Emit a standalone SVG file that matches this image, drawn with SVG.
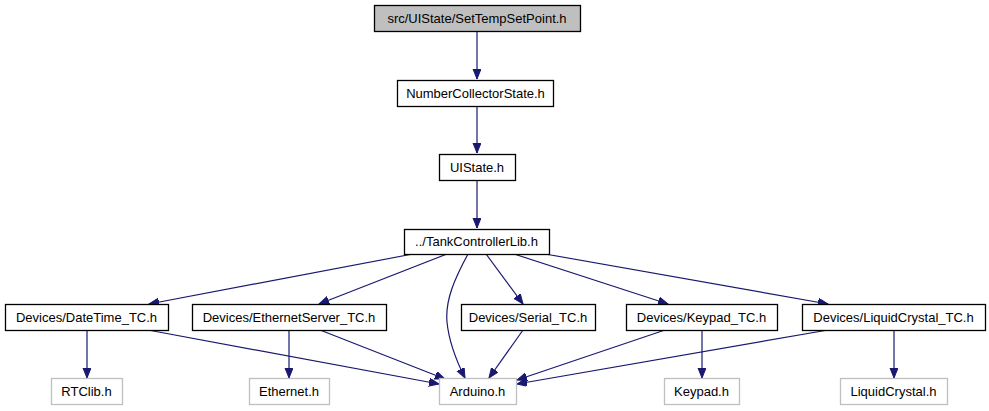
<svg xmlns="http://www.w3.org/2000/svg" width="989" height="411" viewBox="0 0 989 411">
<style>
.n rect{fill:#fff;stroke:#000;stroke-width:1.3}
.g rect{fill:#fff;stroke:#bfbfbf;stroke-width:1.3}
.root rect{fill:#bfbfbf;stroke:#000;stroke-width:1.3}
text{font-family:"Liberation Sans",Arial,sans-serif;font-size:13px;fill:#000;text-anchor:middle}
.e path{fill:none;stroke:#191970;stroke-width:1.2;marker-end:url(#a)}
</style>
<defs>
<marker id="a" markerUnits="userSpaceOnUse" markerWidth="11" markerHeight="9" refX="10" refY="4" orient="auto" viewBox="0 0 11 9">
<path d="M0,0 L10,4 L0,8 z" fill="#191970" stroke="#191970" stroke-width="1"/>
</marker>
</defs>
<g id="edges" class="e">
<path d="M477,31 V79"/>
<path d="M477,106 V153"/>
<path d="M477,180 V228"/>
<path d="M413,254 L149,304"/>
<path d="M447,254 L319,304"/>
<path d="M468,254 C455,278 445,300 447,322 C449,343 457,362 465,378"/>
<path d="M486,254 L523,304"/>
<path d="M514,254 L668,304"/>
<path d="M545,254 L828,304"/>
<path d="M87,330 V378"/>
<path d="M148,330 L439,384"/>
<path d="M289,330 V378"/>
<path d="M320,330 L445,379"/>
<path d="M523,330 L489,378"/>
<path d="M665,330 L517,380"/>
<path d="M828,330 L517,384"/>
<path d="M702,330 V378"/>
<path d="M894,330 V378"/>
</g>
<g id="node-root" class="root"><rect x="374.5" y="5.5" width="206" height="26"/><text x="477" y="22.5">src/UIState/SetTempSetPoint.h</text></g>
<g id="node-ncs" class="n"><rect x="397.5" y="80.5" width="156" height="26"/><text x="475.5" y="97.5">NumberCollectorState.h</text></g>
<g id="node-uistate" class="n"><rect x="439.5" y="154.5" width="76" height="26"/><text x="477" y="171.5">UIState.h</text></g>
<g id="node-tank" class="n"><rect x="404.5" y="229.5" width="145" height="25"/><text x="476.5" y="246">../TankControllerLib.h</text></g>
<g id="node-datetime" class="n"><rect x="5.5" y="304.5" width="163" height="26"/><text x="86.5" y="321.5">Devices/DateTime_TC.h</text></g>
<g id="node-ethserver" class="n"><rect x="192.5" y="304.5" width="194" height="26"/><text x="289" y="321.5">Devices/EthernetServer_TC.h</text></g>
<g id="node-serial" class="n"><rect x="461.5" y="304.5" width="134" height="26"/><text x="528" y="321.5">Devices/Serial_TC.h</text></g>
<g id="node-keypadtc" class="n"><rect x="626.5" y="304.5" width="151" height="26"/><text x="701.5" y="321.5">Devices/Keypad_TC.h</text></g>
<g id="node-lcdtc" class="n"><rect x="802.5" y="304.5" width="183" height="26"/><text x="893.5" y="321.5">Devices/LiquidCrystal_TC.h</text></g>
<g id="node-rtclib" class="g"><rect x="51.5" y="378.5" width="71" height="26"/><text x="86.5" y="395.5">RTClib.h</text></g>
<g id="node-ethernet" class="g"><rect x="249.5" y="378.5" width="80" height="26"/><text x="289" y="395.5">Ethernet.h</text></g>
<g id="node-arduino" class="g"><rect x="439.5" y="378.5" width="77" height="26"/><text x="477.5" y="395.5">Arduino.h</text></g>
<g id="node-keypad" class="g"><rect x="664.5" y="378.5" width="75" height="26"/><text x="701.5" y="395.5">Keypad.h</text></g>
<g id="node-lcd" class="g"><rect x="840.5" y="378.5" width="107" height="26"/><text x="893.5" y="395.5">LiquidCrystal.h</text></g>
</svg>
